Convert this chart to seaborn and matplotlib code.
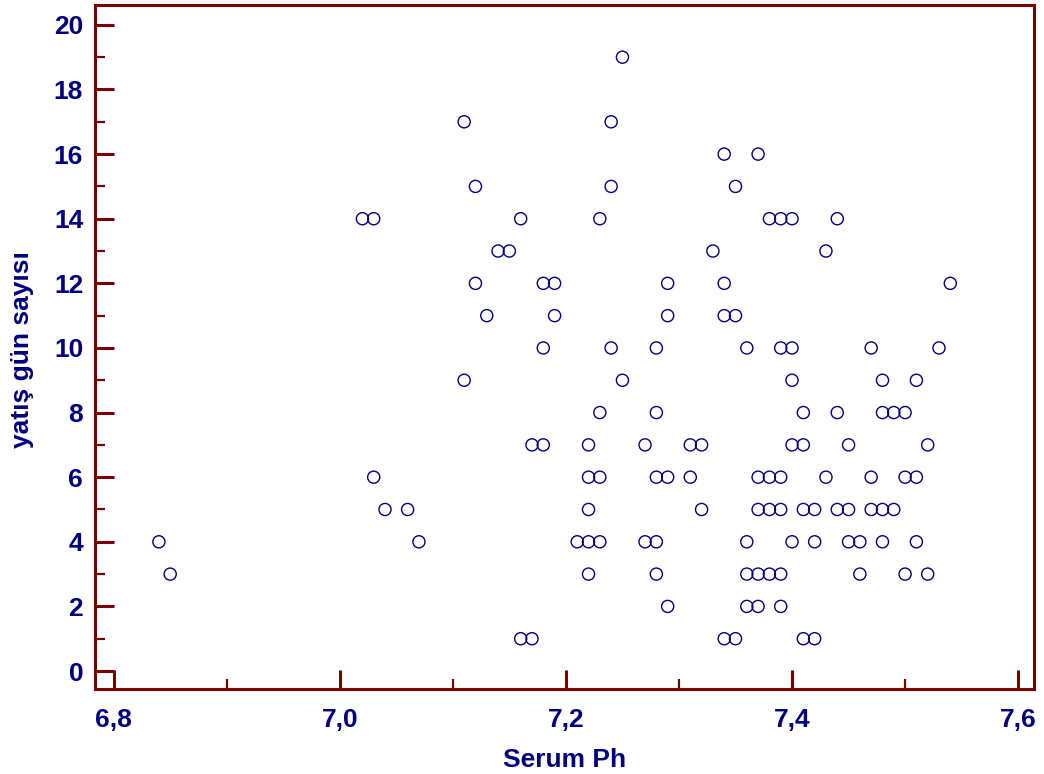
import matplotlib
matplotlib.use("Agg")
import matplotlib.pyplot as plt
from matplotlib.ticker import MultipleLocator, FixedLocator, FixedFormatter
import seaborn as sns
import pandas as pd

# Serum pH and length of hospital stay (days), one entry per patient
serum_ph = [
    7.25,
    7.11, 7.24,
    7.34, 7.37,
    7.12, 7.24, 7.35,
    7.02, 7.03, 7.16, 7.23, 7.38, 7.39, 7.40, 7.44,
    7.14, 7.15, 7.33, 7.43,
    7.12, 7.18, 7.19, 7.29, 7.34, 7.54,
    7.13, 7.19, 7.29, 7.34, 7.35,
    7.18, 7.24, 7.28, 7.36, 7.39, 7.40, 7.47, 7.53,
    7.11, 7.25, 7.40, 7.48, 7.51,
    7.23, 7.28, 7.41, 7.44, 7.48, 7.49, 7.50,
    7.17, 7.18, 7.22, 7.27, 7.31, 7.32, 7.40, 7.41, 7.45, 7.52,
    7.03, 7.22, 7.23, 7.28, 7.29, 7.31, 7.37, 7.38, 7.39, 7.43, 7.47, 7.50, 7.51,
    7.04, 7.06, 7.22, 7.32, 7.37, 7.38, 7.39, 7.41, 7.42, 7.44, 7.45, 7.47, 7.48, 7.49,
    6.84, 7.07, 7.21, 7.22, 7.23, 7.27, 7.28, 7.36, 7.40, 7.42, 7.45, 7.46, 7.48, 7.51,
    6.85, 7.22, 7.28, 7.36, 7.37, 7.38, 7.39, 7.46, 7.50, 7.52,
    7.29, 7.36, 7.37, 7.39,
    7.16, 7.17, 7.34, 7.35, 7.41, 7.42,
]
stay_days = (
    [19] * 1 + [17] * 2 + [16] * 2 + [15] * 3 + [14] * 8 + [13] * 4
    + [12] * 6 + [11] * 5 + [10] * 8 + [9] * 5 + [8] * 7 + [7] * 10
    + [6] * 13 + [5] * 14 + [4] * 14 + [3] * 10 + [2] * 4 + [1] * 6
)

x_ticks = [6.8, 7.0, 7.2, 7.4, 7.6]
x_tick_labels = ["6,8", "7,0", "7,2", "7,4", "7,6"]
y_ticks = [0, 2, 4, 6, 8, 10, 12, 14, 16, 18, 20]
y_tick_labels = [str(v) for v in y_ticks]

df = pd.DataFrame({"Serum Ph": serum_ph, "yatış gün sayısı": stay_days})

sns.set_style("white")
plt.rcParams["font.family"] = ["Liberation Sans", "DejaVu Sans"]

AXIS_RED = "#780000"
NAVY = "#000080"

fig = plt.figure(figsize=(10.44, 7.74), dpi=100)
ax = fig.add_axes([0.091, 0.1098, 0.8994, 0.8831])

sns.scatterplot(
    data=df, x="Serum Ph", y="yatış gün sayısı", ax=ax,
    marker="o", s=76, facecolor="none", edgecolor=NAVY, linewidth=1.0,
    legend=False,
)

ax.set_xlim(6.7835, 7.614)
ax.set_ylim(-0.557, 20.6)

ax.xaxis.set_major_locator(FixedLocator(x_ticks))
ax.xaxis.set_major_formatter(FixedFormatter(x_tick_labels))
ax.xaxis.set_minor_locator(MultipleLocator(0.1))
ax.yaxis.set_major_locator(FixedLocator(y_ticks))
ax.yaxis.set_major_formatter(FixedFormatter(y_tick_labels))
ax.yaxis.set_minor_locator(MultipleLocator(1))

for side in ["left", "bottom", "top", "right"]:
    ax.spines[side].set_visible(True)
    ax.spines[side].set_color(AXIS_RED)
    ax.spines[side].set_linewidth(2.2)

ax.tick_params(axis="both", which="major", direction="in", length=13.5,
               width=2.2, color=AXIS_RED, labelcolor=NAVY, labelsize=19)
ax.tick_params(axis="both", which="minor", direction="in", length=7,
               width=1.6, color=AXIS_RED)
ax.tick_params(axis="x", which="both", bottom=True, top=False)
ax.tick_params(axis="y", which="both", left=True, right=False)
ax.tick_params(axis="x", which="major", pad=13.5)
ax.tick_params(axis="y", which="major", pad=8.5)
for lab in ax.get_xticklabels() + ax.get_yticklabels():
    lab.set_fontweight("bold")

ax.set_xlabel("Serum Ph", fontsize=19, fontweight="bold", color=NAVY, va="center")
ax.set_ylabel("yatış gün sayısı", fontsize=19, fontweight="bold", color=NAVY, va="center")
ax.xaxis.set_label_coords(0.5, -0.104)
ax.yaxis.set_label_coords(-0.078, 0.497)

fig.savefig("out.png", dpi=100)
